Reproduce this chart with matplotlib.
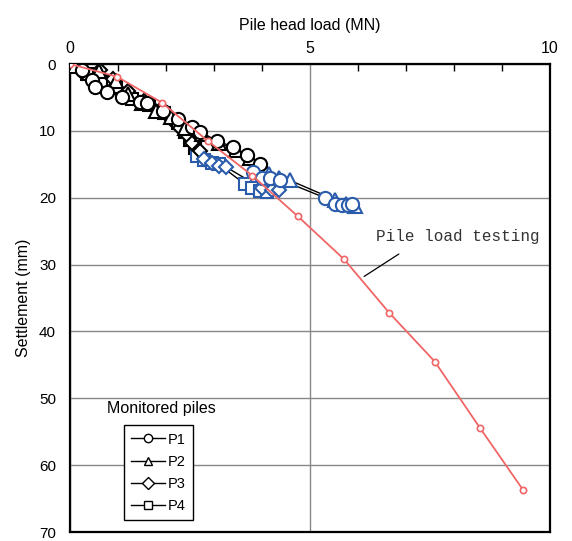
import matplotlib.pyplot as plt
from matplotlib.lines import Line2D
from matplotlib.ticker import MultipleLocator

plt.rcParams['font.family'] = ['Liberation Sans', 'DejaVu Sans']

# 静载试验 (pile load testing)
test_load = [0.0, 0.98, 1.92, 2.87, 3.8, 4.75, 5.71, 6.65, 7.6, 8.54, 9.44]
test_settle = [0.0, 1.9, 5.8, 11.5, 16.7, 22.8, 29.2, 37.2, 44.5, 54.4, 63.7]

# 监测桩 P1-P4，n_late 为后期(蓝色)测点个数
p1_load = [0.25, 0.46, 0.52, 0.77, 1.08, 1.46, 1.6, 1.94, 2.25, 2.54, 2.71, 3.06,
           3.4, 3.69, 3.96, 3.81, 4.0, 4.17, 4.38, 5.31, 5.52, 5.67, 5.79, 5.88]
p1_settle = [0.9, 2.4, 3.4, 4.2, 4.9, 5.7, 5.8, 7.1, 8.3, 9.4, 10.1, 11.5,
             12.4, 13.6, 15.0, 16.1, 17.0, 17.0, 17.3, 20.0, 21.0, 21.1, 21.1, 21.0]
p1_late = 9

p2_load = [0.1, 0.6, 0.95, 1.2, 1.5, 1.8, 2.1, 2.4, 2.75, 3.1, 3.45, 3.75, 4.05,
           4.15, 4.35, 4.58, 5.52, 5.75, 5.94]
p2_settle = [0.3, 1.0, 2.5, 4.5, 5.8, 7.0, 8.0, 9.5, 10.5, 11.8, 12.8, 14.0, 15.5,
             16.5, 17.0, 17.4, 20.3, 20.9, 21.3]
p2_late = 6

p3_load = [0.08, 0.25, 0.62, 0.9, 1.2, 1.55, 1.85, 2.1, 2.3, 2.45, 2.55, 2.7,
           2.8, 2.95, 3.1, 3.25, 4.0, 4.2, 4.35]
p3_settle = [0.1, 1.2, 0.9, 2.2, 4.0, 5.5, 7.0, 8.2, 9.6, 10.8, 11.8, 13.0,
             14.2, 14.8, 15.2, 15.4, 18.6, 18.9, 18.9]
p3_late = 7

p4_load = [0.1, 0.35, 0.65, 0.95, 1.3, 1.65, 1.95, 2.25, 2.4, 2.5, 2.6,
           2.65, 2.8, 2.95, 3.1, 3.65, 3.8, 3.95, 4.1]
p4_settle = [0.3, 1.5, 2.8, 3.5, 5.2, 6.2, 7.3, 8.8, 10.2, 11.4, 12.5,
             13.8, 14.3, 14.8, 15.0, 18.0, 18.6, 19.0, 19.2]
p4_late = 8

# 绘制顺序：P1 在最上层
piles = [
    ('P1', p1_load, p1_settle, p1_late, 'o', 9.5),
    ('P2', p2_load, p2_settle, p2_late, '^', 9.5),
    ('P3', p3_load, p3_settle, p3_late, 'D', 7.5),
    ('P4', p4_load, p4_settle, p4_late, 's', 8),
]

BLUE = '#2b5cab'
RED = '#f06666'

fig = plt.figure(figsize=(5.72, 5.41), dpi=100)
ax = fig.add_axes([0.1224, 0.0166, 0.839, 0.8651])

for i, (name, x, y, n_late, mk, ms) in enumerate(piles):
    k = len(x) - n_late
    z = 3 + (len(piles) - i) * 0.1
    ax.plot(x, y, color='black', lw=1.0, zorder=2)
    ax.plot(x[:k], y[:k], ls='none', marker=mk, ms=ms, mfc='white',
            mec='black', mew=1.5, zorder=z)
    ax.plot(x[k:], y[k:], ls='none', marker=mk, ms=ms, mfc='white',
            mec=BLUE, mew=1.5, zorder=z)

ax.plot(test_load, test_settle, color=RED, lw=1.3, marker='o', ms=4.5,
        mfc='white', mec=RED, mew=1.2, zorder=4)

# 标注
ax.text(6.375, 25.8, 'Pile load testing', family='Liberation Mono',
        fontsize=11.5, color='#333333', va='center', ha='left')
ax.annotate('', xy=(6.08, 32.0), xytext=(6.9, 28.2),
            arrowprops=dict(arrowstyle='-', color='black', lw=0.9))

ax.set_xlim(0, 10)
ax.set_ylim(70, 0)
ax.xaxis.set_major_locator(MultipleLocator(5))
ax.xaxis.set_minor_locator(MultipleLocator(1))
ax.yaxis.set_major_locator(MultipleLocator(10))
ax.xaxis.tick_top()
ax.xaxis.set_label_position('top')
ax.tick_params(axis='x', which='both', direction='in', length=5, width=1,
               labelsize=11.5, pad=6)
ax.tick_params(axis='x', which='major', length=0)
ax.tick_params(axis='y', which='major', length=0, labelsize=11, pad=10)
ax.set_xlabel('Pile head load (MN)', fontsize=11.5, labelpad=8)
ax.set_ylabel('Settlement (mm)', fontsize=11.5, labelpad=6)
ax.grid(True, which='major', color='#888888', lw=1.0)
ax.set_axisbelow(True)
for sp in ax.spines.values():
    sp.set_linewidth(1.6)
    sp.set_color('black')

# 图例
handles = [Line2D([], [], color='black', lw=1.0, marker=mk, ms=6,
                  mfc='white', mec='black', mew=1.0)
           for _, _, _, _, mk, _ in piles]
leg = ax.legend(handles, [p[0] for p in piles], loc='upper left',
                bbox_to_anchor=(0.1125, 0.228), borderaxespad=0,
                fontsize=10.5, handlelength=2.3, labelspacing=0.55,
                handletextpad=0.2, borderpad=0.5, fancybox=False,
                edgecolor='black', framealpha=1)
leg.get_frame().set_linewidth(1.0)
ax.text(0.077, 0.264, 'Monitored piles', transform=ax.transAxes,
        fontsize=11.5, va='center', ha='left')

fig.savefig('out.png', dpi=100)
